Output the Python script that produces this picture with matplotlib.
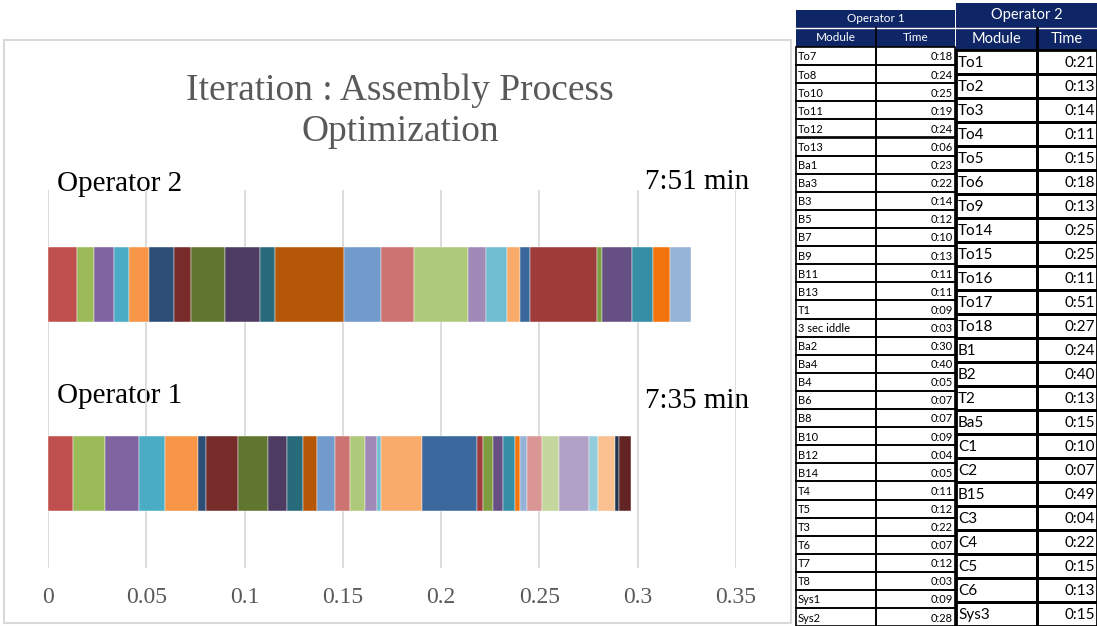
import matplotlib.pyplot as plt
from matplotlib.patches import Rectangle

# module times in seconds (tables on the right)
op1_modules = ["To7", "To8", "To10", "To11", "To12", "To13", "Ba1", "Ba3", "B3", "B5",
               "B7", "B9", "B11", "B13", "T1", "3 sec iddle", "Ba2", "Ba4", "B4", "B6",
               "B8", "B10", "B12", "B14", "T4", "T5", "T3", "T6", "T7", "T8", "Sys1", "Sys2"]
op1_secs = [18, 24, 25, 19, 24, 6, 23, 22, 14, 12, 10, 13, 11, 11, 9, 3, 30, 40, 5, 7,
            7, 9, 4, 5, 11, 12, 22, 7, 12, 3, 9, 28]
op1_plotted = 31  # the chart stops at Sys1

op2_modules = ["To1", "To2", "To3", "To4", "To5", "To6", "To9", "To14", "To15", "To16",
               "To17", "To18", "B1", "B2", "T2", "Ba5", "C1", "C2", "B15", "C3", "C4",
               "C5", "C6", "Sys3"]
op2_secs = [21, 13, 14, 11, 15, 18, 13, 25, 25, 11, 51, 27, 24, 40, 13, 15, 10, 7, 49, 4,
            22, 15, 13, 15]

categories = ["Operator 1", "Operator 2"]
xticks = [0, 0.05, 0.1, 0.15, 0.2, 0.25, 0.3, 0.35]

# excel 2010 series colours, starting at series 2
palette = ["#C0504D", "#9BBB59", "#8064A2", "#4BACC6", "#F79646",
           "#2C4D75", "#772C2A", "#5F7530", "#4D3B62", "#276A7C", "#B65708",
           "#729ACA", "#CD7371", "#AFC97A", "#9F8AB7", "#6FBDD1", "#F9AB6B",
           "#3A679C", "#9F3B38", "#7E9D40", "#664F83", "#358EA6", "#F3740B",
           "#95B3D7", "#D99694", "#C3D69B", "#B2A1C7", "#93CDDD", "#FAC090",
           "#1F3552", "#632523"]


def fmt(s):
    return f"{s // 60}:{s % 60:02d}"


W, H = 1097, 626
fig = plt.figure(figsize=(W / 100, H / 100), dpi=100)

# overlay in pixel coords for the frame and the tables
ov = fig.add_axes([0, 0, 1, 1])
ov.set_xlim(0, W)
ov.set_ylim(H, 0)
ov.axis('off')
ov.add_patch(Rectangle((4, 40), 787, 583, fill=False, ec='#D9D9D9', lw=1.5))

ax = fig.add_axes([48 / W, 1 - 568 / H, (736 - 48) / W, (568 - 190) / H])
ax.set_xlim(0, 0.35)
ax.set_ylim(-0.5, 1.5)
ax.set_xticks(xticks)
ax.set_xticklabels([f"{t:g}" for t in xticks], family='Liberation Serif',
                   fontsize=17, color='#595959')
ax.set_yticks([])
ax.tick_params(axis='x', length=0, pad=14)
for sp in ax.spines.values():
    sp.set_visible(False)
ax.grid(axis='x', color='#D9D9D9', lw=1.3)
ax.set_axisbelow(True)
ax.patch.set_alpha(0)

for row, secs in [(0, op1_secs[:op1_plotted]), (1, op2_secs)]:
    left = 0
    for i, s in enumerate(secs):
        w = s / 1440  # excel read m:ss as h:mm -> fraction of a day
        ax.barh(row, w, left=left, height=0.4, color=palette[i % len(palette)],
                edgecolor='#ffffff', linewidth=0.3)
        left += w

ov.text(400, 90, "Iteration : Assembly Process", ha='center', va='center',
        family='Liberation Serif', fontsize=27, color='#595959')
ov.text(400, 132, "Optimization", ha='center', va='center',
        family='Liberation Serif', fontsize=27, color='#595959')

ov.text(57, 184, categories[1], ha='left', va='center', family='Liberation Serif', fontsize=21)
ov.text(749, 182, fmt(sum(op2_secs)) + " min", ha='right', va='center',
        family='Liberation Serif', fontsize=21)
ov.text(57, 396, categories[0], ha='left', va='center', family='Liberation Serif', fontsize=21)
ov.text(749, 401, fmt(sum(op1_secs)) + " min", ha='right', va='center',
        family='Liberation Serif', fontsize=21)


def draw_table(x0, xm, x1, y_title, y_head, y_rows, rh, title, mods, secs, fs, hfs, lw):
    navy = '#0E2566'
    ov.add_patch(Rectangle((x0, y_title), x1 - x0, y_rows - y_title, color=navy, lw=0))
    ov.plot([x0, x1], [y_head, y_head], color='white', lw=1)
    ov.plot([xm, xm], [y_head, y_rows], color='black', lw=lw)
    ov.text((x0 + x1) / 2, (y_title + y_head) / 2, title, color='white',
            ha='center', va='center', fontsize=hfs, family='Lato')
    ov.text((x0 + xm) / 2, (y_head + y_rows) / 2, "Module", color='white',
            ha='center', va='center', fontsize=hfs, family='Lato')
    ov.text((xm + x1) / 2, (y_head + y_rows) / 2, "Time", color='white',
            ha='center', va='center', fontsize=hfs, family='Lato')
    for i, (m, s) in enumerate(zip(mods, secs)):
        top = y_rows + i * rh
        ov.add_patch(Rectangle((x0, top), xm - x0, rh, fill=False, ec='black', lw=lw))
        ov.add_patch(Rectangle((xm, top), x1 - xm, rh, fill=False, ec='black', lw=lw))
        ov.text(x0 + 2, top + rh * 0.55, m, ha='left', va='center', fontsize=fs, family='Lato')
        ov.text(x1 - 2, top + rh * 0.55, fmt(s), ha='right', va='center', fontsize=fs,
                family='Lato')


draw_table(796, 876, 955, 10, 28, 47, 18.1, "Operator 1", op1_modules, op1_secs, 8, 8.5, 1.2)
draw_table(956, 1037, 1097, 3, 28, 50, 24, "Operator 2", op2_modules, op2_secs, 11, 10.5, 2)

plt.savefig('out.png', dpi=100)
